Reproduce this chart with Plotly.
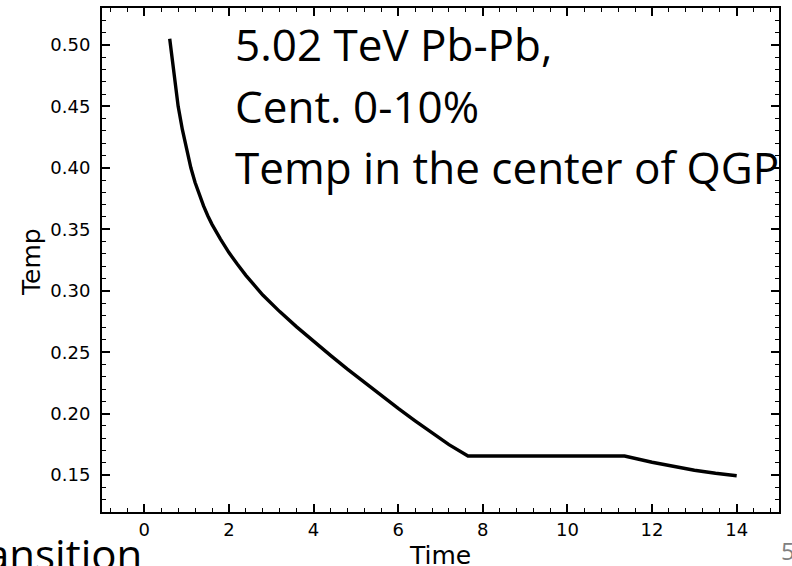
import plotly.graph_objects as go

# Data
time = [0.6, 0.7, 0.8, 0.9, 1.0, 1.1, 1.2, 1.3, 1.4, 1.5, 1.6, 1.8, 2.0, 2.2, 2.4, 2.8,
        3.2, 3.6, 4.0, 4.4, 4.8, 5.2, 5.6, 6.0, 6.4, 6.8, 7.2, 7.65, 11.35, 12.0, 12.5,
        13.0, 13.5, 14.0]
temp = [0.505, 0.476, 0.450, 0.431, 0.414, 0.400, 0.388, 0.378, 0.369, 0.361, 0.354,
        0.342, 0.331, 0.3215, 0.3125, 0.2965, 0.2830, 0.2706, 0.2588, 0.2474, 0.2362,
        0.2253, 0.2147, 0.2043, 0.1942, 0.1844, 0.1748, 0.1655, 0.1655, 0.1605, 0.157,
        0.154, 0.1515, 0.1495]

x_range = [-1, 15]
y_range = [0.12, 0.53]
x_title = "Time"
y_title = "Temp"
text_lines = ["5.02 TeV Pb-Pb,", "Cent. 0-10%", "Temp in the center of QGP"]

W, H = 792, 566
ml, mr, mt, mb = 102, 13, 8, 54
pw = W - ml - mr
ph = H - mt - mb

def px(x):
    return (x - ml) / pw

def py(y):
    return (H - mb - y) / ph

fig = go.Figure()
fig.add_trace(go.Scatter(x=time, y=temp, mode="lines",
                         line=dict(color="black", width=3.4), showlegend=False))

tickfont = dict(family="DejaVu Sans", size=18, color="black")
titlefont = dict(family="DejaVu Sans", size=25, color="black")

fig.update_xaxes(range=x_range, tick0=0, dtick=2, ticks="inside", ticklen=8, tickwidth=1.5,
                 tickcolor="black", showline=True, linewidth=2, linecolor="black",
                 mirror="ticks", showgrid=False, zeroline=False, tickfont=tickfont,
                 ticklabelstandoff=0,
                 minor=dict(dtick=0.4, tick0=0, ticks="inside", ticklen=4, tickwidth=1.2,
                            tickcolor="black", showgrid=False))
fig.update_yaxes(range=y_range, tick0=0.15, dtick=0.05, tickformat=".2f", ticks="inside",
                 ticklen=8, tickwidth=1.5, tickcolor="black", showline=True, linewidth=2,
                 linecolor="black", mirror="ticks", showgrid=False, zeroline=False,
                 tickfont=tickfont, ticklabelstandoff=6,
                 minor=dict(dtick=0.01, tick0=0.15, ticks="inside", ticklen=4, tickwidth=1.2,
                            tickcolor="black", showgrid=False))

anns = []
for i, (t, yc) in enumerate(zip(text_lines, [44, 106, 167])):
    anns.append(dict(text=t, xref="paper", yref="paper", x=px(233), y=py(yc),
                     xanchor="left", yanchor="middle", showarrow=False,
                     font=dict(family="Open Sans", size=44, color="black")))
anns.append(dict(text=x_title, xref="paper", yref="paper", x=px(440), y=py(555),
                 xanchor="center", yanchor="middle", showarrow=False, font=titlefont))
anns.append(dict(text=y_title, xref="paper", yref="paper", x=px(31), y=py(262),
                 xanchor="center", yanchor="middle", textangle=-90, showarrow=False,
                 font=titlefont))
anns.append(dict(text="ansition", xref="paper", yref="paper", x=px(144), y=py(584),
                 xanchor="right", yanchor="bottom", showarrow=False,
                 font=dict(family="Open Sans", size=42, color="black")))
anns.append(dict(text="5", xref="paper", yref="paper", x=px(779), y=py(550),
                 xanchor="left", yanchor="middle", showarrow=False,
                 font=dict(family="Open Sans", size=24, color="#808080")))

fig.update_layout(width=W, height=H, margin=dict(l=ml, r=mr, t=mt, b=mb, autoexpand=False),
                  paper_bgcolor="white", plot_bgcolor="white", annotations=anns)

fig.write_html("out.html")
